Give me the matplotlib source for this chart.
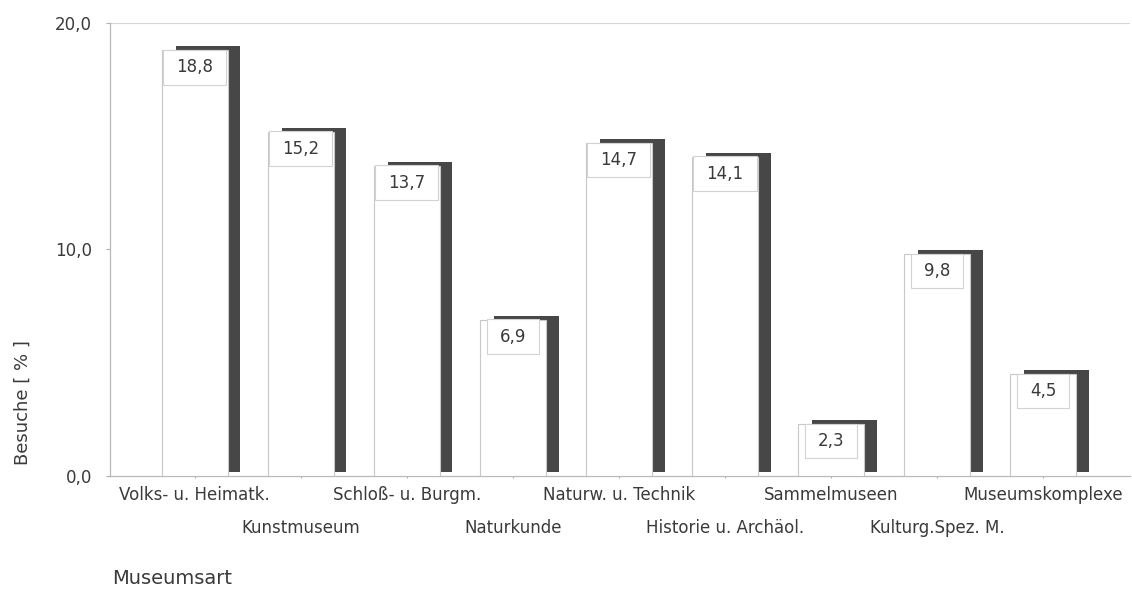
import matplotlib
matplotlib.use("Agg")
import matplotlib.pyplot as plt
import matplotlib.transforms as mtransforms
from matplotlib.path import Path
import numpy as np

categories = ["Volks- u. Heimatk.", "Kunstmuseum", "Schloß- u. Burgm.", "Naturkunde",
              "Naturw. u. Technik", "Historie u. Archäol.", "Sammelmuseen",
              "Kulturg.Spez. M.", "Museumskomplexe"]
values = [18.8, 15.2, 13.7, 6.9, 14.7, 14.1, 2.3, 9.8, 4.5]
value_labels = ["18,8", "15,2", "13,7", "6,9", "14,7", "14,1", "2,3", "9,8", "4,5"]
yticks = [0, 10, 20]
ytick_labels = ["0,0", "10,0", "20,0"]

plt.rcParams['font.family'] = ['DejaVu Sans']
txt_color = "#3a3a3a"


def wide_box(x0, y0, width, height, mutation_size):
    padx = 0.78 * mutation_size
    pady = 0.5 * mutation_size
    x0, y0 = x0 - padx, y0 - pady
    x1, y1 = x0 + width + 2 * padx, y0 + height + 2 * pady
    return Path([(x0, y0), (x1, y0), (x1, y1), (x0, y1), (x0, y0)],
                [Path.MOVETO, Path.LINETO, Path.LINETO, Path.LINETO, Path.CLOSEPOLY])


fig = plt.figure(figsize=(11.32, 5.91), dpi=100)
ax = fig.add_axes([110/1132, 1-476/591, 1020/1132, 453/591])

x = np.arange(len(categories))
# dark "depth" bar, shifted right and slightly up
shift = mtransforms.offset_copy(ax.transData, fig=fig, x=0, y=4, units='dots')
ax.bar(x + 0.125, values, width=0.61, color="#474747", edgecolor="none",
       transform=shift, zorder=2)
ax.bar(x, values, width=0.62, color="white", edgecolor="#c8c8c8", linewidth=0.8, zorder=3)

for xi, v, lab in zip(x, values, value_labels):
    ax.annotate(lab, (xi, v), xytext=(0, -12.3), textcoords="offset points",
                ha="center", va="center", fontsize=12, color=txt_color, zorder=5,
                bbox=dict(boxstyle=wide_box, fc="white", ec="#d2d2d2", lw=0.8))

ax.set_xlim(-0.8, 8.82)
ax.set_ylim(0, 20)
ax.axhline(20, color="#d4d4d4", lw=0.8, zorder=1)

ax.set_yticks(yticks)
ax.set_yticklabels(ytick_labels, fontsize=12, color=txt_color)
ax.set_xticks(x)
ax.set_xticklabels([])
ax.tick_params(axis="y", length=3, color="#b0b0b0", pad=10)
ax.tick_params(axis="x", length=3, color="#b0b0b0", direction="inout")

for s in ["top", "right"]:
    ax.spines[s].set_visible(False)
for s in ["left", "bottom"]:
    ax.spines[s].set_color("#b8b8b8")
    ax.spines[s].set_linewidth(0.9)

for i, c in enumerate(categories):
    ypix = 19 if i % 2 == 0 else 52
    ax.annotate(c, (i, 0), xytext=(0, -ypix * 0.72), textcoords="offset points",
                ha="center", va="center", fontsize=12, color=txt_color)

fig.text(23/1132, 1-403/591, "Besuche [ % ]", rotation=90, ha="center", va="center",
         fontsize=13, color=txt_color)
fig.text(112/1132, 1-579/591, "Museumsart", ha="left", va="center",
         fontsize=14, color=txt_color)

fig.savefig("out.png", dpi=100, facecolor="white")
